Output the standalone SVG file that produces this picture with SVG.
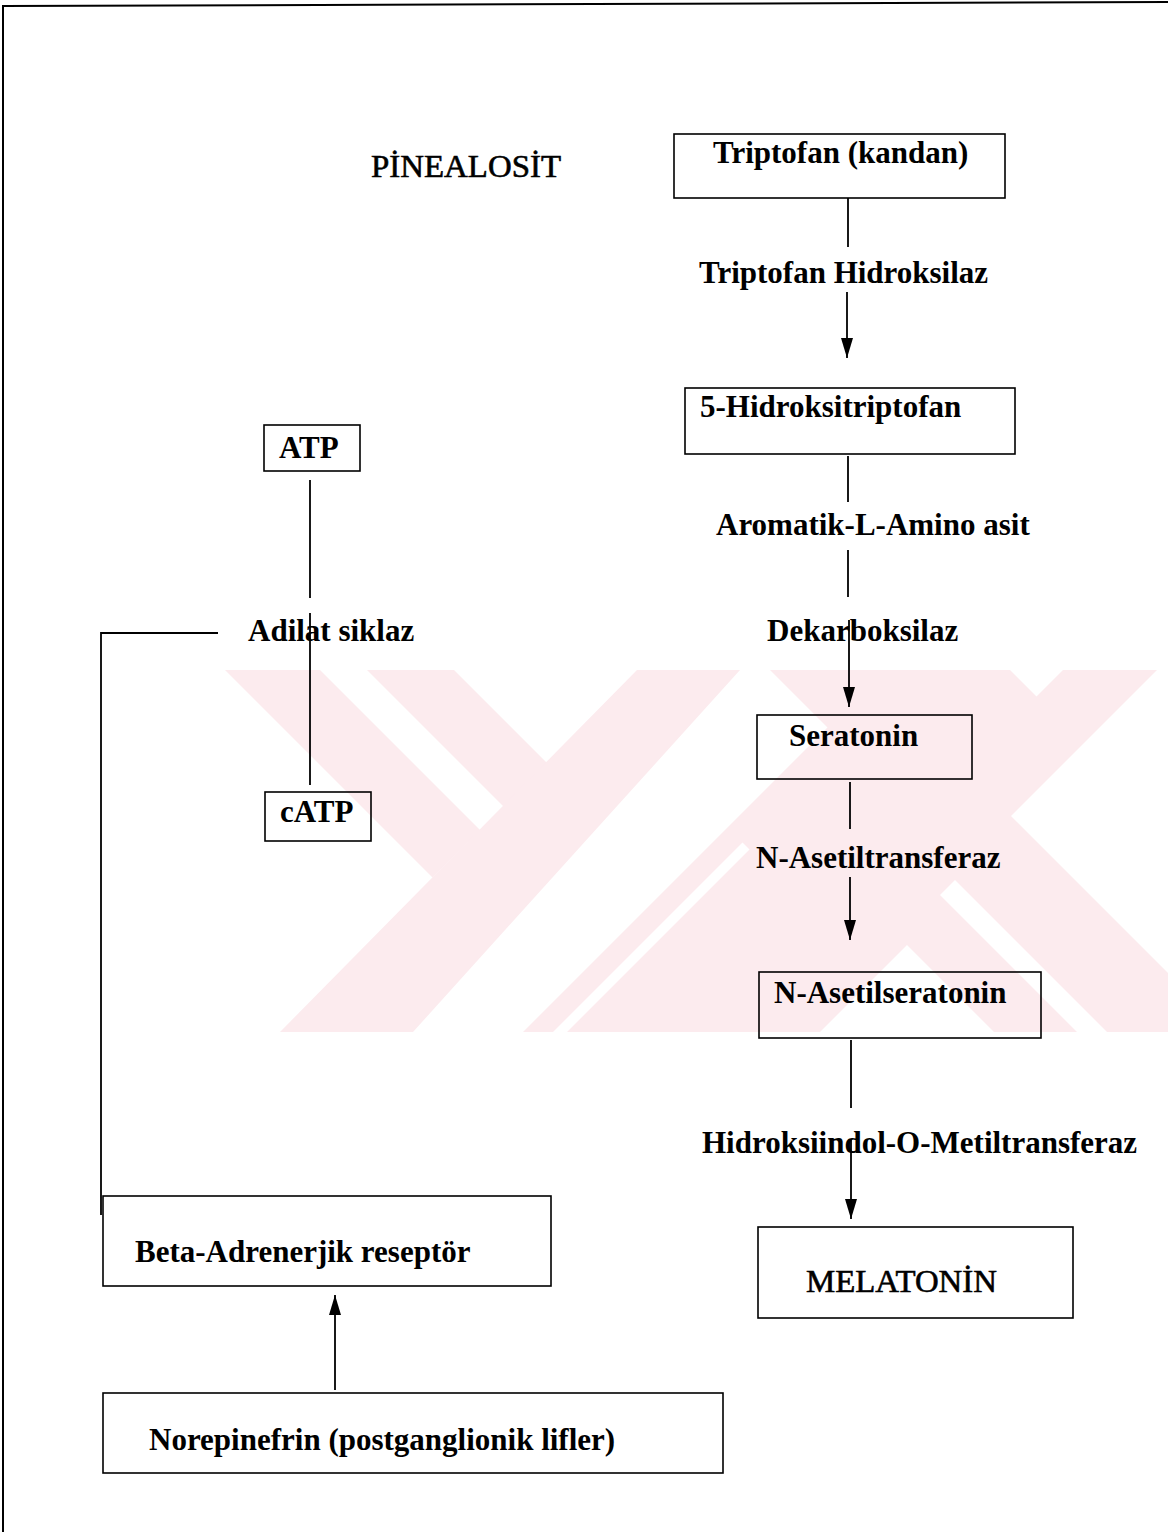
<svg xmlns="http://www.w3.org/2000/svg" width="1168" height="1532" viewBox="0 0 1168 1532">
<defs>
<marker id="ah" markerUnits="userSpaceOnUse" markerWidth="20" markerHeight="12" refX="20" refY="6" orient="auto">
<path d="M0,0 L20,6 L0,12 z" fill="#000"/>
</marker>
<style>
.t{font-family:"Liberation Serif","Times New Roman",serif;font-size:31px;font-weight:bold;fill:#000}
.tn{font-family:"Liberation Serif","Times New Roman",serif;font-size:32px;font-weight:normal;fill:#000;stroke:#000;stroke-width:0.6}
.b{fill:none;stroke:#000;stroke-width:1.6}
.c{fill:none;stroke:#000;stroke-width:1.8}
.wm{fill:#fcebee;stroke:none}
.wg{fill:#fff;stroke:none}
</style>
</defs>
<rect width="1168" height="1532" fill="#fff"/>
<g id="watermark">
<polygon class="wm" points="225,670 320,670 480,830 432.5,877.5"/>
<polygon class="wm" points="367,670 454,670 547,763 503.5,806.5"/>
<polygon class="wm" points="637,670 740,670 413,1032 280,1032"/>
<polygon class="wm" points="770,670 1010,670 1036.5,696.5 1063,670 1157,670 1011,816 1168,973 1168,1032 994,1032 907,945 820,1032 523,1032 827.5,727.5"/>
<polygon class="wg" points="940,895 955,880 1107,1032 1077,1032"/>
<polygon class="wg" points="742.5,842.5 749.5,849.5 567,1032 553,1032"/>
</g>
<g id="border">
<line x1="3" y1="6" x2="1168" y2="2" stroke="#000" stroke-width="2"/>
<line x1="3" y1="5" x2="3" y2="1532" stroke="#000" stroke-width="2"/>
</g>
<text class="tn" x="371" y="177" textLength="190" lengthAdjust="spacingAndGlyphs">PİNEALOSİT</text>
<g id="connectors">
<line class="c" x1="848" y1="198" x2="848" y2="247"/>
<line class="c" x1="847" y1="292" x2="847" y2="358" marker-end="url(#ah)"/>
<line class="c" x1="848" y1="456" x2="848" y2="502"/>
<line class="c" x1="848" y1="550" x2="848" y2="597"/>
<line class="c" x1="849" y1="620" x2="849" y2="707" marker-end="url(#ah)"/>
<line class="c" x1="850" y1="782" x2="850" y2="829"/>
<line class="c" x1="850" y1="877" x2="850" y2="940" marker-end="url(#ah)"/>
<line class="c" x1="851" y1="1040" x2="851" y2="1108"/>
<line class="c" x1="851" y1="1140" x2="851" y2="1219" marker-end="url(#ah)"/>
<line class="c" x1="310" y1="480" x2="310" y2="598"/>
<line class="c" x1="310" y1="613" x2="310" y2="785"/>
<polyline class="c" points="218,633 101,633 101,1215"/>
<line class="c" x1="335" y1="1390" x2="335" y2="1295" marker-end="url(#ah)"/>
</g>
<g id="n-triptofan">
<rect class="b" x="674" y="134" width="331" height="64"/>
<text class="t" x="713" y="163">Triptofan (kandan)</text>
</g>
<g id="e-triptofan-hidroksilaz">
<text class="t" x="699" y="283">Triptofan Hidroksilaz</text>
</g>
<g id="n-5htp">
<rect class="b" x="685" y="388" width="330" height="66"/>
<text class="t" x="700" y="417">5-Hidroksitriptofan</text>
</g>
<g id="e-aromatik">
<text class="t" x="716" y="535">Aromatik-L-Amino asit</text>
</g>
<g id="e-dekarboksilaz">
<text class="t" x="767" y="641">Dekarboksilaz</text>
</g>
<g id="n-seratonin">
<rect class="b" x="757" y="715" width="215" height="64"/>
<text class="t" x="789" y="746">Seratonin</text>
</g>
<g id="e-nat">
<text class="t" x="756" y="868">N-Asetiltransferaz</text>
</g>
<g id="n-nas">
<rect class="b" x="759" y="972" width="282" height="66"/>
<text class="t" x="774" y="1003">N-Asetilseratonin</text>
</g>
<g id="e-hiomt">
<text class="t" x="702" y="1153">Hidroksiindol-O-Metiltransferaz</text>
</g>
<g id="n-melatonin">
<rect class="b" x="758" y="1227" width="315" height="91"/>
<text class="tn" x="806" y="1292" textLength="191" lengthAdjust="spacingAndGlyphs">MELATONİN</text>
</g>
<g id="n-atp">
<rect class="b" x="264" y="425" width="96" height="46"/>
<text class="t" x="279" y="458">ATP</text>
</g>
<g id="e-adilat">
<text class="t" x="248" y="641">Adilat siklaz</text>
</g>
<g id="n-catp">
<rect class="b" x="265" y="792" width="106" height="49"/>
<text class="t" x="280" y="822">cATP</text>
</g>
<g id="n-beta">
<rect class="b" x="103" y="1196" width="448" height="90"/>
<text class="t" x="135" y="1262">Beta-Adrenerjik reseptör</text>
</g>
<g id="n-norepinefrin">
<rect class="b" x="103" y="1393" width="620" height="80"/>
<text class="t" x="149" y="1450">Norepinefrin (postganglionik lifler)</text>
</g>
</svg>
